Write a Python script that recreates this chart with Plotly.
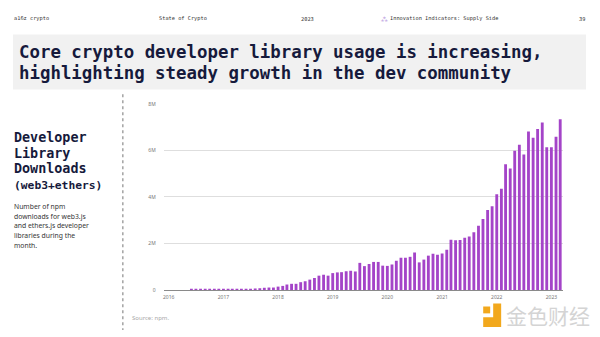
import pandas as pd
import plotly.graph_objects as go

# Monthly npm downloads of web3.js + ethers.js, in millions (Jun 2016 - Mar 2023)
months = pd.date_range("2016-06-01", "2023-03-01", freq="MS")
downloads_m = [
    # 2016 (Jun-Dec)
    0.02, 0.02, 0.03, 0.03, 0.03, 0.03, 0.04,
    # 2017
    0.04, 0.04, 0.05, 0.05, 0.05, 0.06, 0.06, 0.07, 0.08, 0.10, 0.11, 0.11,
    # 2018
    0.15, 0.18, 0.24, 0.27, 0.27, 0.34, 0.38, 0.45, 0.52, 0.62, 0.66, 0.62,
    # 2019
    0.73, 0.76, 0.77, 0.81, 0.83, 0.80, 1.17, 1.03, 1.12, 1.21, 1.21, 1.05,
    # 2020
    1.04, 1.10, 1.26, 1.39, 1.39, 1.43, 1.62, 1.19, 1.31, 1.48, 1.56, 1.52,
    # 2021
    1.57, 1.73, 2.16, 2.14, 2.15, 2.25, 2.30, 2.49, 2.76, 3.05, 3.44, 3.60,
    # 2022
    4.12, 4.35, 5.41, 5.22, 5.99, 6.24, 5.82, 6.81, 6.54, 6.92, 7.20, 6.14,
    # 2023 (Jan-Mar)
    6.14, 6.59, 7.34,
]

year_ticks = [f"{y}-01-01" for y in range(2016, 2024)]
year_labels = [str(y) for y in range(2016, 2024)]
y_ticks = [0, 2e6, 4e6, 6e6, 8e6]
y_labels = ["0", "2M", "4M", "6M", "8M"]

description_lines = [
    "Number of npm",
    "downloads for web3.js",
    "and ethers.js developer",
    "libraries during the",
    "month.",
]

W, H = 600, 337
MONO = "DejaVu Sans Mono"
NAVY = "#161a3c"


def px(x):
    return x / W


def py(y):
    return 1 - y / H


fig = go.Figure()
fig.add_trace(go.Bar(
    x=months,
    y=[v * 1e6 for v in downloads_m],
    marker=dict(color="#a444c8", line=dict(width=0)),
    hoverinfo="x+y",
))

fig.update_layout(
    width=W, height=H,
    margin=dict(l=0, r=0, t=0, b=0),
    paper_bgcolor="white",
    plot_bgcolor="white",
    showlegend=False,
    bargap=0.32,
    xaxis=dict(
        domain=[px(163), px(563)],
        range=["2015-11-29", "2023-03-20"],
        tickvals=year_ticks,
        ticktext=year_labels,
        tickfont=dict(family="Noto Sans", size=5, color="#777"),
        ticks="",
        showgrid=False,
        showline=True, linecolor="#8a8a8a", linewidth=1,
        zeroline=False,
        ticklabelstandoff=2,
    ),
    yaxis=dict(
        domain=[py(292.3), py(102.7)],
        range=[0, 8e6],
        tickvals=y_ticks,
        ticktext=y_labels,
        tickfont=dict(family="Noto Sans", size=5, color="#777"),
        ticks="",
        showgrid=True, gridcolor="#dedede", gridwidth=1,
        zeroline=False,
        ticklabelstandoff=7,
    ),
)

shapes = [
    # title band
    dict(type="rect", xref="paper", yref="paper",
         x0=px(12), x1=px(586), y0=py(88), y1=py(32),
         fillcolor="#f1f1f1", line=dict(width=0), layer="below"),
    # dotted divider
    dict(type="line", xref="paper", yref="paper",
         x0=px(122), x1=px(122), y0=py(93), y1=py(333),
         line=dict(color="#a8a8a8", width=1.6, dash="dot")),
    # watermark logo blocks
    dict(type="rect", xref="paper", yref="paper",
         x0=px(483), x1=px(490), y0=py(316), y1=py(309),
         fillcolor="#f2a81d", line=dict(width=0)),
    dict(type="path", xref="paper", yref="paper",
         path=(f"M {px(493)} {py(306)} L {px(501)} {py(306)} L {px(501)} {py(330)} "
               f"L {px(483)} {py(330)} L {px(483)} {py(320)} L {px(493)} {py(320)} Z"),
         fillcolor="#f2a81d", line=dict(width=0)),
]
fig.update_layout(shapes=shapes)

ann = []


def text(x, y, s, size, color, family=MONO, xanchor="left", yanchor="middle", align="left"):
    ann.append(dict(x=px(x), y=py(y), xref="paper", yref="paper", text=s,
                    showarrow=False, xanchor=xanchor, yanchor=yanchor, align=align,
                    borderpad=0, borderwidth=0,
                    font=dict(family=family, size=size, color=color)))


# header row
for x, s in [(13, "a16z crypto"), (158, "State of Crypto"), (300, "2023"),
             (390, "Innovation Indicators: Supply Side"), (579, "39")]:
    text(x, 16, s, 5.3, "#333")
text(381, 16, "⁂", 6, "#b89be0")

# title
text(18, 50, "<b>Core crypto developer library usage is increasing,</b>", 17.4, NAVY)
text(18, 71, "<b>highlighting steady growth in the dev community</b>", 17.4, NAVY)

# left panel
text(13, 137, "<b>Developer</b>", 13.4, NAVY)
text(13, 153, "<b>Library</b>", 13.4, NAVY)
text(13, 169, "<b>Downloads</b>", 13.4, NAVY)
text(13, 186, "<b>(web3+ethers)</b>", 11.3, NAVY)
for i, line in enumerate(description_lines):
    text(13, 207 + 10 * i, line, 6.8, "#333", family="Noto Sans")

# source note
text(131, 321, "Source: npm.", 6, "#a8a8a8", family="Noto Sans")

# watermark
text(548, 318, "金色财经", 21, "#d4d4d4", family="Noto Sans CJK SC", xanchor="center")

fig.update_layout(annotations=ann)
fig.write_html("out.html")
